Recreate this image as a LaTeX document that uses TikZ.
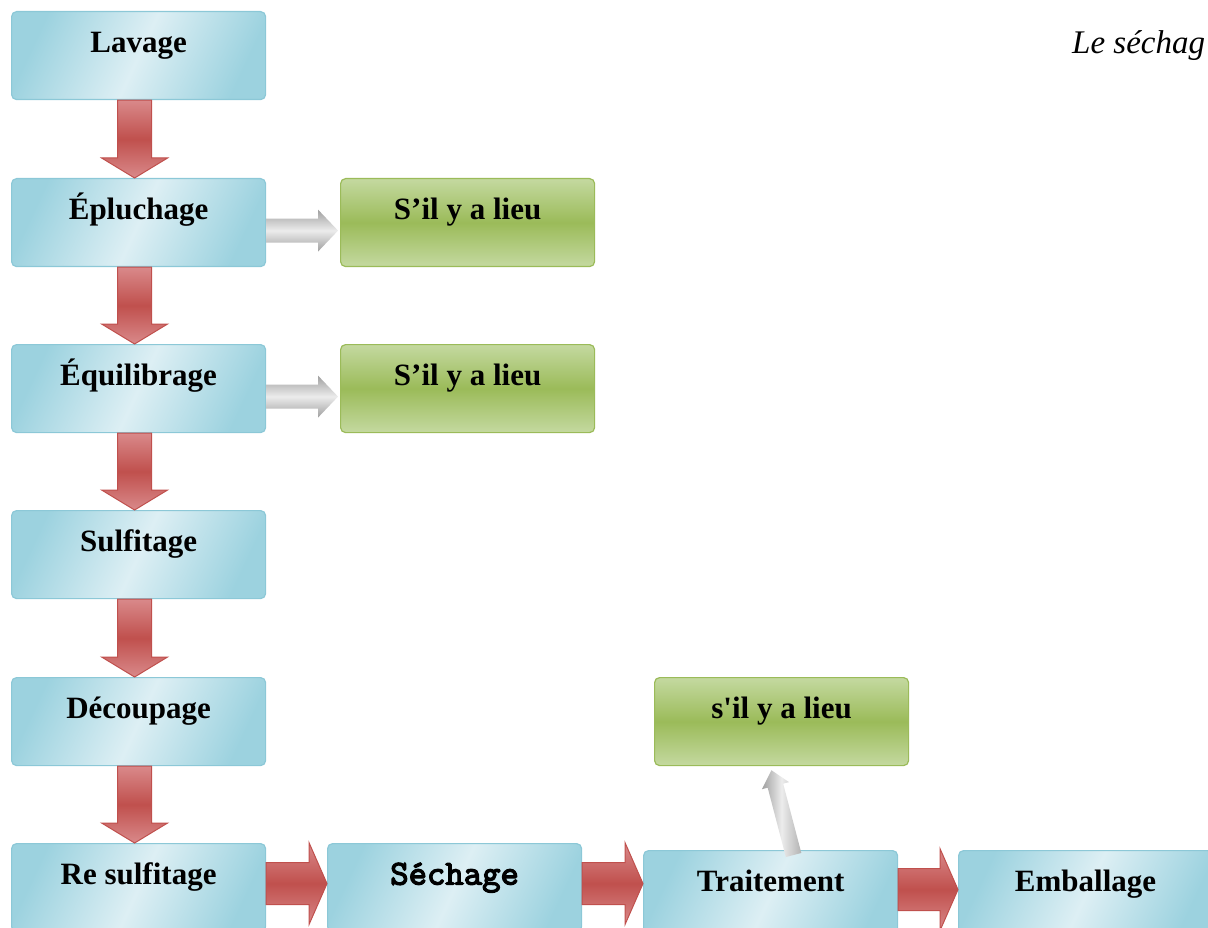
\documentclass[tikz,border=0pt]{standalone}
\usepackage{fontspec}
\setmainfont{Liberation Serif}
\newfontfamily\quotefont{Liberation Serif}[Ligatures=TeXOff]
\newfontfamily\slabfont{lmmono10-regular.otf}[FakeBold=3.5]
\usetikzlibrary{calc}
\definecolor{bluedark}{HTML}{9CD2DF}
\definecolor{bluelight}{HTML}{DDEFF4}
\definecolor{blueline}{HTML}{8CC8D7}
\definecolor{greenmid}{HTML}{9BBB59}
\definecolor{greenlight}{HTML}{C4D9A0}
\definecolor{greenline}{HTML}{9BBB59}
\definecolor{redmid}{HTML}{C0504D}
\definecolor{redlight}{HTML}{D9898A}
\definecolor{redline}{HTML}{C0504D}
\newcommand\fatarrow[6]{%
  \coordinate (fas) at (#2);
  \coordinate (fat) at (#3);
  \coordinate (fah) at ($(fat)!#6!(fas)$);
  \path[#1] ($(fas)!#4!90:(fat)$) -- ($(fah)!#4!-90:(fas)$) -- ($(fah)!#5!-90:(fas)$)
    -- (fat) -- ($(fah)!#5!90:(fas)$) -- ($(fah)!#4!90:(fas)$) -- ($(fas)!#4!-90:(fat)$) -- cycle;}
\begin{document}
\begin{tikzpicture}[x=1pt,y=-1pt,
  boxbase/.style={line width=1.2pt, rounded corners=5pt, minimum width=254pt,
    minimum height=88pt, inner sep=0pt, text height=22pt, text depth=28pt,
    font=\fontsize{31}{37}\selectfont\bfseries, anchor=north west},
  box/.style={boxbase, draw=blueline, left color=bluedark, right color=bluedark,
    middle color=bluelight, shading angle=65},
  greenbox/.style={boxbase, draw=greenline, top color=greenlight, bottom color=greenlight,
    middle color=greenmid},
  redarr/.style={draw=redline, line width=1pt, top color=redlight, bottom color=redlight,
    middle color=redmid},
  grayarr/.style={top color=gray!75, bottom color=gray!75, middle color=gray!15},
  grayup/.style={left color=gray!75, right color=gray!60, middle color=gray!15}]
\clip (0,0) rectangle (1208,928);
% boxes
\node[box] (lav) at (11,11) {Lavage};
\node[box] (epl) at (11,178) {Épluchage};
\node[box] (equ) at (11,344) {Équilibrage};
\node[box] (sul) at (11,510) {Sulfitage};
\node[box] (dec) at (11,677) {Découpage};
\node[box] (res) at (11,843) {Re sulfitage};
\node[box] (sec) at (327,843) {\fontsize{35}{40}\selectfont\slabfont Séchage};
\node[box] (tra) at (643,850) {Traitement};
\node[box] (emb) at (958,850) {Emballage};
\node[greenbox] (g1) at (340,178) {S’il y a lieu};
\node[greenbox] (g2) at (340,344) {S’il y a lieu};
\node[greenbox] (g3) at (654,677) {\quotefont\bfseries s'il y a lieu};
\node[anchor=base west, inner sep=0pt, font=\fontsize{33}{40}\selectfont\itshape] (title) at (1072,54) {Le séchag};
% red vertical arrows
\fatarrow{redarr}{[xshift=-4pt]lav.south}{[xshift=-4pt]epl.north}{17pt}{33pt}{20pt}
\fatarrow{redarr}{[xshift=-4pt]epl.south}{[xshift=-4pt]equ.north}{17pt}{33pt}{20pt}
\fatarrow{redarr}{[xshift=-4pt]equ.south}{[xshift=-4pt]sul.north}{17pt}{33pt}{20pt}
\fatarrow{redarr}{[xshift=-4pt]sul.south}{[xshift=-4pt]dec.north}{17pt}{33pt}{20pt}
\fatarrow{redarr}{[xshift=-4pt]dec.south}{[xshift=-4pt]res.north}{17pt}{33pt}{20pt}
% red horizontal arrows
\fatarrow{redarr}{[yshift=4pt]res.east}{[yshift=4pt]sec.west}{21pt}{41pt}{18pt}
\fatarrow{redarr}{[yshift=4pt]sec.east}{[yshift=11pt]tra.west}{21pt}{41pt}{18pt}
\fatarrow{redarr}{[yshift=5pt]tra.east}{[yshift=5pt]emb.west}{21pt}{41pt}{18pt}
% gray arrows
\fatarrow{grayarr}{[yshift=-8pt]epl.east}{[yshift=-8pt,xshift=-2pt]g1.west}{12pt}{21pt}{20pt}
\fatarrow{grayarr}{[yshift=-8pt]equ.east}{[yshift=-8pt,xshift=-2pt]g2.west}{12pt}{21pt}{20pt}
\fatarrow{grayup}{[yshift=-5pt]$(tra.north west)!0.59!(tra.north east)$}{[yshift=-4pt]$(g3.south west)!0.46!(g3.south east)$}{8pt}{14pt}{16pt}
\end{tikzpicture}
\end{document}
